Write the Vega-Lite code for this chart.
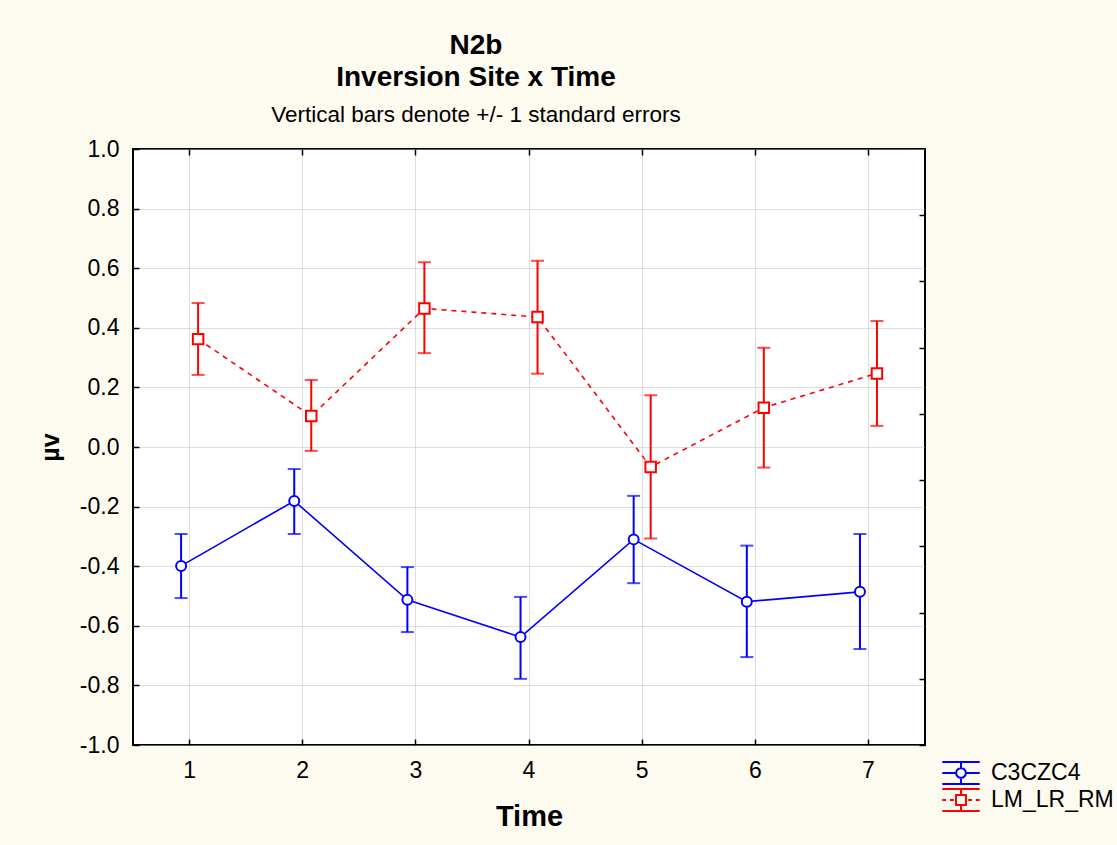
{
  "$schema": "https://vega.github.io/schema/vega-lite/v6.json",
  "width": 792,
  "height": 596,
  "autosize": {"type": "none"},
  "padding": {"left": 133, "top": 149, "right": 192, "bottom": 100},
  "background": "#FDFAF0",
  "title": {
    "text": ["N2b", "Inversion Site x Time"],
    "subtitle": "Vertical bars denote +/- 1 standard errors",
    "font": "Liberation Sans",
    "fontSize": 28,
    "fontWeight": "bold",
    "lineHeight": 32,
    "color": "black",
    "subtitleFont": "Liberation Sans",
    "subtitleFontSize": 22.5,
    "subtitleColor": "black",
    "subtitlePadding": 12,
    "anchor": "middle",
    "dx": -53,
    "offset": 12
  },
  "config": {
    "locale": {"number": {"decimal": ".", "thousands": ",", "grouping": [3], "currency": ["$", ""], "minus": "-"}},
    "view": {"stroke": "black", "strokeWidth": 2, "fill": "white"},
    "axis": {
      "labelFont": "Liberation Sans",
      "labelFontSize": 23,
      "labelColor": "black",
      "titleFont": "Liberation Sans",
      "titleColor": "black",
      "titleFontWeight": "bold",
      "tickColor": "black",
      "tickWidth": 1.5,
      "tickSize": -6,
      "domain": false,
      "gridColor": "#bdbdbd",
      "gridDash": [1, 1],
      "gridWidth": 1
    },
    "legend": {
      "labelFont": "Liberation Sans",
      "labelFontSize": 23,
      "labelColor": "black"
    }
  },
  "data": {
    "values": [
      {"time": 1, "series": "C3CZC4", "mean": -0.399, "lo": -0.507, "hi": -0.292},
      {"time": 2, "series": "C3CZC4", "mean": -0.181, "lo": -0.292, "hi": -0.074},
      {"time": 3, "series": "C3CZC4", "mean": -0.513, "lo": -0.621, "hi": -0.403},
      {"time": 4, "series": "C3CZC4", "mean": -0.638, "lo": -0.778, "hi": -0.503},
      {"time": 5, "series": "C3CZC4", "mean": -0.310, "lo": -0.457, "hi": -0.164},
      {"time": 6, "series": "C3CZC4", "mean": -0.519, "lo": -0.705, "hi": -0.331},
      {"time": 7, "series": "C3CZC4", "mean": -0.486, "lo": -0.678, "hi": -0.292},
      {"time": 1, "series": "LM_LR_RM", "mean": 0.362, "lo": 0.242, "hi": 0.483},
      {"time": 2, "series": "LM_LR_RM", "mean": 0.104, "lo": -0.013, "hi": 0.225},
      {"time": 3, "series": "LM_LR_RM", "mean": 0.465, "lo": 0.315, "hi": 0.620},
      {"time": 4, "series": "LM_LR_RM", "mean": 0.436, "lo": 0.246, "hi": 0.625},
      {"time": 5, "series": "LM_LR_RM", "mean": -0.067, "lo": -0.307, "hi": 0.174},
      {"time": 6, "series": "LM_LR_RM", "mean": 0.132, "lo": -0.069, "hi": 0.333},
      {"time": 7, "series": "LM_LR_RM", "mean": 0.247, "lo": 0.071, "hi": 0.423}
    ]
  },
  "resolve": {"axis": {"x": "independent", "y": "independent"}},
  "layer": [
    {
      "mark": {"type": "rule", "strokeWidth": 2},
      "encoding": {
        "x": {"field": "time", "type": "ordinal", "scale": {"type": "band", "paddingInner": 0, "paddingOuter": 0},
              "axis": {"orient": "bottom", "title": "Time", "titleFontSize": 29, "titlePadding": 20, "labelAngle": 0, "labelPadding": 20, "grid": true, "bandPosition": 0.5}},
        "xOffset": {"field": "series", "scale": {"domain": ["C3CZC4", "LM_LR_RM"], "range": [39.6, 73.6], "paddingInner": 0, "paddingOuter": 0}},
        "y": {"field": "lo", "type": "quantitative", "scale": {"domain": [-1, 1], "nice": false, "zero": false},
              "axis": {"orient": "left", "title": "µv", "titleFontSize": 25, "titlePadding": 16, "values": [-1, -0.8, -0.6, -0.4, -0.2, 0, 0.2, 0.4, 0.6, 0.8, 1], "format": ".1f", "labelPadding": 20, "grid": true}},
        "y2": {"field": "hi"},
        "color": {"field": "series", "type": "nominal", "scale": {"domain": ["C3CZC4", "LM_LR_RM"], "range": ["#0000FF", "#FF0000"]}, "legend": null}
      }
    },
    {
      "mark": {"type": "tick", "size": 13, "thickness": 2},
      "encoding": {
        "x": {"field": "time", "type": "ordinal",
              "axis": {"orient": "top", "title": null, "labels": false, "grid": false, "bandPosition": 0.5}},
        "xOffset": {"field": "series"},
        "y": {"field": "lo", "type": "quantitative", "scale": {"domain": [-1, 1], "nice": false, "zero": false},
              "axis": {"orient": "right", "title": null, "labels": false, "grid": false, "values": [0.7778, 0.5556, 0.3333, 0.1111, -0.1111, -0.3333, -0.5556, -0.7778, -1]}},
        "color": {"field": "series", "type": "nominal", "legend": null}
      }
    },
    {
      "mark": {"type": "tick", "size": 13, "thickness": 2},
      "encoding": {
        "x": {"field": "time", "type": "ordinal", "axis": null},
        "xOffset": {"field": "series"},
        "y": {"field": "hi", "type": "quantitative", "scale": {"domain": [-1, 1], "nice": false, "zero": false}, "axis": null},
        "color": {"field": "series", "type": "nominal", "legend": null}
      }
    },
    {
      "transform": [{"filter": "datum.series == 'C3CZC4'"}],
      "mark": {"type": "line", "strokeWidth": 1.6},
      "encoding": {
        "x": {"field": "time", "type": "ordinal", "axis": null},
        "xOffset": {"field": "series"},
        "y": {"field": "mean", "type": "quantitative", "scale": {"domain": [-1, 1], "nice": false, "zero": false}, "axis": null},
        "color": {"field": "series", "type": "nominal", "legend": null}
      }
    },
    {
      "transform": [{"filter": "datum.series == 'LM_LR_RM'"}],
      "mark": {"type": "line", "strokeWidth": 1.6, "strokeDash": [5, 5]},
      "encoding": {
        "x": {"field": "time", "type": "ordinal", "axis": null},
        "xOffset": {"field": "series"},
        "y": {"field": "mean", "type": "quantitative", "scale": {"domain": [-1, 1], "nice": false, "zero": false}, "axis": null},
        "color": {"field": "series", "type": "nominal", "legend": null}
      }
    },
    {
      "transform": [{"filter": "datum.series == 'C3CZC4'"}],
      "mark": {"type": "point", "shape": "circle", "size": 100, "filled": false, "fill": "white", "fillOpacity": 1, "strokeWidth": 2, "opacity": 1},
      "encoding": {
        "x": {"field": "time", "type": "ordinal", "axis": null},
        "xOffset": {"field": "series"},
        "y": {"field": "mean", "type": "quantitative", "scale": {"domain": [-1, 1], "nice": false, "zero": false}, "axis": null},
        "color": {"field": "series", "type": "nominal", "legend": null}
      }
    },
    {
      "transform": [{"filter": "datum.series == 'LM_LR_RM'"}],
      "mark": {"type": "point", "shape": "square", "size": 110, "filled": false, "fill": "white", "fillOpacity": 1, "strokeWidth": 2, "opacity": 1},
      "encoding": {
        "x": {"field": "time", "type": "ordinal", "axis": null},
        "xOffset": {"field": "series"},
        "y": {"field": "mean", "type": "quantitative", "scale": {"domain": [-1, 1], "nice": false, "zero": false}, "axis": null},
        "color": {"field": "series", "type": "nominal", "legend": null}
      }
    },
    {
      "mark": {"type": "point", "filled": false, "strokeOpacity": 0, "fillOpacity": 0, "strokeWidth": 2},
      "encoding": {
        "x": {"field": "time", "type": "ordinal", "axis": null},
        "y": {"field": "mean", "type": "quantitative", "scale": {"domain": [-1, 1], "nice": false, "zero": false}, "axis": null},
        "shape": {"field": "series", "type": "nominal",
                  "scale": {"range": [
                    "M-1.7,-1L1.7,-1M-1.7,1L1.7,1M0,-1L0,-0.45M0,0.45L0,1M-1.7,0L-0.45,0M0.45,0L1.7,0M0.45,0L0.39,0.225L0.225,0.39L0,0.45L-0.225,0.39L-0.39,0.225L-0.45,0L-0.39,-0.225L-0.225,-0.39L0,-0.45L0.225,-0.39L0.39,-0.225Z",
                    "M-1.7,-1L1.7,-1M-1.7,1L1.7,1M0,-1L0,-0.45M0,0.45L0,1M-1.7,0L-1.35,0M-1,0L-0.65,0M0.65,0L1,0M1.35,0L1.7,0M-0.45,-0.45L0.45,-0.45L0.45,0.45L-0.45,0.45Z"
                  ]},
                  "legend": {"title": null, "orient": "none", "legendX": 816, "legendY": 612, "symbolSize": 484, "symbolStrokeWidth": 2, "labelOffset": 18, "rowPadding": -3, "padding": 0,
                             "symbolOpacity": 1, "symbolFillColor": "transparent",
                             "symbolStrokeColor": {"expr": "datum.value === 'C3CZC4' ? '#0000FF' : '#FF0000'"},
                             "encode": {"symbols": {"update": {
                               "strokeOpacity": {"value": 1},
                               "opacity": {"value": 1}
                             }}}}}
      }
    }
  ]
}
